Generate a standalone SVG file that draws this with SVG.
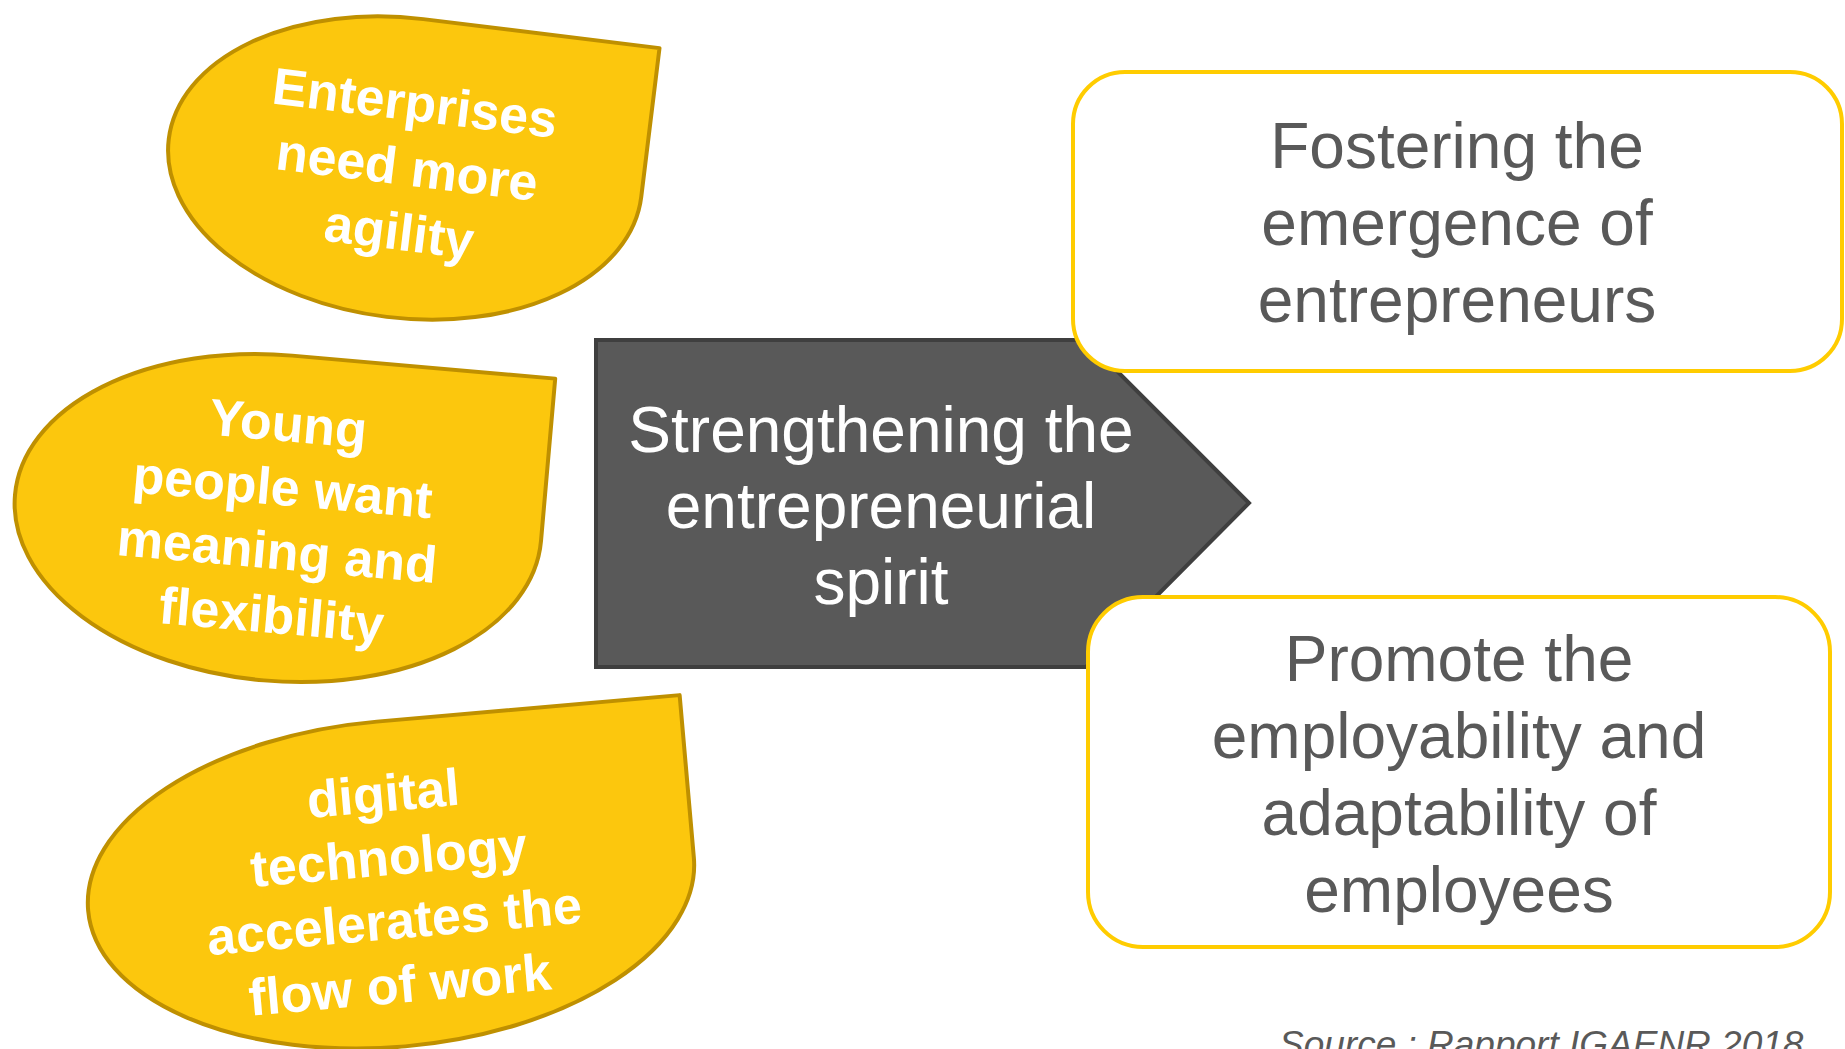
<svg xmlns="http://www.w3.org/2000/svg" width="1845" height="1049" viewBox="0 0 1845 1049">
<style>
.drop{fill:#FCC70D;stroke:#BF9000;stroke-width:4;stroke-linejoin:round}
.dt{font-family:"Liberation Sans",Arial,sans-serif;font-weight:bold;font-size:52px;fill:#ffffff;text-anchor:middle}
.box{fill:#ffffff;stroke:#FFCC00;stroke-width:4}
.bt{font-family:"Liberation Sans",Arial,sans-serif;font-size:64px;fill:#595959;text-anchor:middle}
.ct{font-family:"Liberation Sans",Arial,sans-serif;font-size:64px;fill:#ffffff;text-anchor:middle}
.src{font-family:"Liberation Sans",Arial,sans-serif;font-size:37px;font-style:italic;fill:#595959}
</style>
<rect width="1845" height="1049" fill="#ffffff"/>
<g id="enterprises" transform="translate(405,168) rotate(7)">
<path class="drop" d="M -238,0 A 238 150 0 0 1 0,-150 L 238,-150 L 238,0 A 238 150 0 0 1 0,150 A 238 150 0 0 1 -238,0 Z"/>
<text class="dt" x="2" y="-48">Enterprises</text>
<text class="dt" x="2" y="17">need more</text>
<text class="dt" x="2" y="82">agility</text>
</g>
<g id="young" transform="translate(278,518) rotate(5)">
<path class="drop" d="M -264,0 A 264 163 0 0 1 0,-163 L 264,-163 L 264,0 A 264 163 0 0 1 0,163 A 264 163 0 0 1 -264,0 Z"/>
<text class="dt" x="2" y="-77">Young</text>
<text class="dt" x="2" y="-13">people want</text>
<text class="dt" x="2" y="51">meaning and</text>
<text class="dt" x="2" y="115">flexibility</text>
</g>
<g id="digital" transform="translate(391,884) rotate(-5)">
<path class="drop" d="M -304,0 A 304 163 0 0 1 0,-163 L 304,-163 L 304,0 A 304 163 0 0 1 0,163 A 304 163 0 0 1 -304,0 Z"/>
<text class="dt" x="0" y="-73">digital</text>
<text class="dt" x="0" y="-9">technology</text>
<text class="dt" x="0" y="55">accelerates the</text>
<text class="dt" x="0" y="119">flow of work</text>
</g>
<g id="strengthening">
<polygon points="596,340 1086,340 1249,503 1086,667 596,667" fill="#595959" stroke="#3F3F3F" stroke-width="4" stroke-linejoin="miter"/>
<text class="ct" x="881" y="452">Strengthening the</text>
<text class="ct" x="881" y="528">entrepreneurial</text>
<text class="ct" x="881" y="604">spirit</text>
</g>
<g id="fostering">
<rect class="box" x="1073" y="72" width="769" height="299" rx="52" ry="52"/>
<text class="bt" x="1457" y="168">Fostering the</text>
<text class="bt" x="1457" y="245">emergence of</text>
<text class="bt" x="1457" y="322">entrepreneurs</text>
</g>
<g id="promote">
<rect class="box" x="1088" y="597" width="742" height="350" rx="55" ry="55"/>
<text class="bt" x="1459" y="681">Promote the</text>
<text class="bt" x="1459" y="758">employability and</text>
<text class="bt" x="1459" y="835">adaptability of</text>
<text class="bt" x="1459" y="912">employees</text>
</g>
<g id="connectors"></g>
<text class="src" x="1279" y="1057">Source : Rapport IGAENR 2018</text>
</svg>
